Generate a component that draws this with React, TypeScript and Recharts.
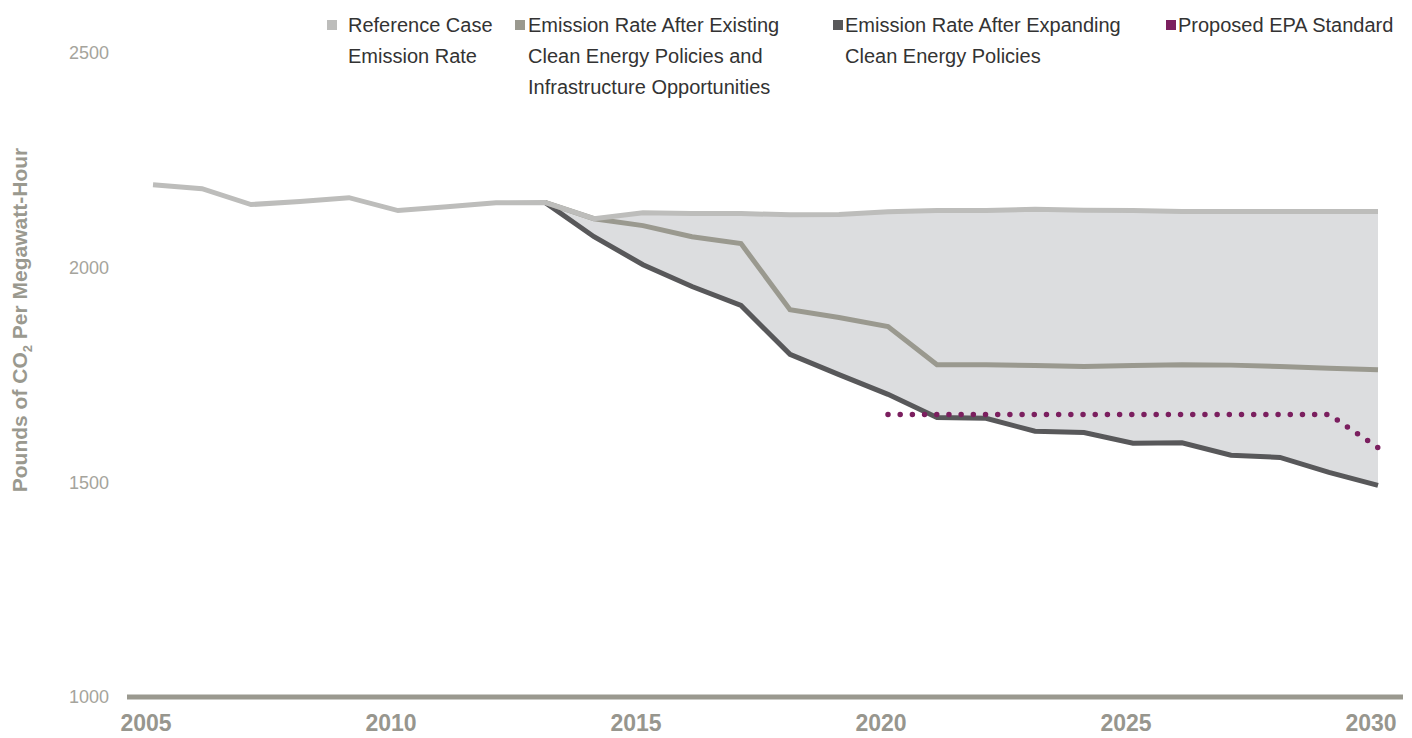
import { ComposedChart, Line, Area, XAxis, YAxis } from 'recharts';

const years = [
  2005, 2006, 2007, 2008, 2009, 2010, 2011, 2012, 2013, 2014, 2015, 2016, 2017,
  2018, 2019, 2020, 2021, 2022, 2023, 2024, 2025, 2026, 2027, 2028, 2029, 2030,
];

// pounds of CO2 per MWh
const referenceRate = [
  2193, 2184, 2147, 2154, 2163, 2133, 2142, 2151, 2152, 2114, 2128, 2126, 2126,
  2123, 2124, 2130, 2133, 2133, 2136, 2134, 2133, 2131, 2131, 2131, 2131, 2131,
];
const existingPolicies = [
  null, null, null, null, null, null, null, null, 2152, 2114, 2098, 2072, 2056,
  1902, 1884, 1863, 1774, 1774, 1772, 1770, 1772, 1774, 1773, 1770, 1766, 1762,
];
const expandingPolicies = [
  null, null, null, null, null, null, null, null, 2152, 2072, 2007, 1956, 1912,
  1798, 1751, 1705, 1651, 1649, 1619, 1616, 1591, 1592, 1563, 1558, 1523, 1493,
];
const epaStandard = [
  null, null, null, null, null, null, null, null, null, null, null, null, null,
  null, null, 1658, 1658, 1658, 1658, 1658, 1658, 1658, 1658, 1658, 1658, 1581,
];

const xTicks = [2005, 2010, 2015, 2020, 2025, 2030];
const yTicks = [1000, 1500, 2000, 2500];

const legendItems = [
  { color: '#bdbdbb', lines: ['Reference Case', 'Emission Rate'], square: 327, text: 348 },
  {
    color: '#9a998f',
    lines: ['Emission Rate After Existing', 'Clean Energy Policies and', 'Infrastructure Opportunities'],
    square: 515,
    text: 528,
  },
  { color: '#58585a', lines: ['Emission Rate After Expanding', 'Clean Energy Policies'], square: 833, text: 845 },
  { color: '#7b1f5f', lines: ['Proposed EPA Standard'], square: 1166, text: 1178 },
];

const FONT = "'Liberation Sans', Arial, sans-serif";

const data = years.map((year, i) => ({
  year,
  reference: referenceRate[i],
  existing: existingPolicies[i],
  expanding: expandingPolicies[i],
  epa: epaStandard[i],
  band: expandingPolicies[i] != null ? [expandingPolicies[i], referenceRate[i]] : null,
}));

const YTitle = () => (
  <text
    transform="translate(27,320) rotate(-90)"
    textAnchor="middle"
    fontFamily={FONT}
    fontWeight="bold"
    fontSize={21}
    fill="#9a998f"
  >
    Pounds of CO
    <tspan dy={5} fontSize={13}>2</tspan>
    <tspan dy={-5}> Per Megawatt-Hour</tspan>
  </text>
);

const App = () => {
  return (
    <div style={{ position: 'absolute', left: 0, top: 0, width: 1412, height: 738, background: '#fff' }}>
      <ComposedChart
        width={1412}
        height={738}
        data={data}
        margin={{ top: 53, right: 9, left: 0, bottom: 0 }}
      >
        <XAxis
          dataKey="year"
          type="number"
          domain={[2005, 2030]}
          ticks={xTicks}
          padding={{ left: 26, right: 25 }}
          height={41}
          axisLine={{ stroke: '#9a998f', strokeWidth: 5 }}
          tickLine={false}
          tickSize={0}
          tickMargin={18}
          tick={{ fontFamily: FONT, fontWeight: 'bold', fontSize: 23, fill: '#97968e', dx: -7 }}
        />
        <YAxis
          domain={[1000, 2500]}
          ticks={yTicks}
          width={127}
          axisLine={false}
          tickLine={false}
          tickSize={0}
          tickMargin={18}
          tick={{ fontFamily: FONT, fontSize: 18, fill: '#a5a49c' }}
          label={{ content: YTitle }}
        />
        <Area dataKey="band" fill="#dcdddf" fillOpacity={1} stroke="none" isAnimationActive={false} />
        <Line dataKey="expanding" stroke="#58585a" strokeWidth={5} dot={false} isAnimationActive={false} />
        <Line dataKey="existing" stroke="#9a998f" strokeWidth={5} dot={false} isAnimationActive={false} />
        <Line dataKey="reference" stroke="#bdbdbb" strokeWidth={5} dot={false} isAnimationActive={false} />
        <Line
          dataKey="epa"
          stroke="#7b1f5f"
          strokeWidth={5.5}
          strokeDasharray="0 12.19"
          strokeLinecap="round"
          dot={false}
          isAnimationActive={false}
        />
      </ComposedChart>
      {legendItems.map((item) => (
        <div key={item.color}>
          <span
            style={{
              position: 'absolute',
              top: 20,
              left: item.square,
              width: 10,
              height: 10,
              background: item.color,
            }}
          />
          <div
            style={{
              position: 'absolute',
              top: 10,
              left: item.text,
              fontFamily: FONT,
              fontSize: 20,
              lineHeight: '31px',
              color: '#333',
              whiteSpace: 'nowrap',
            }}
          >
            {item.lines.map((l) => (
              <div key={l}>{l}</div>
            ))}
          </div>
        </div>
      ))}
    </div>
  );
};

export default App;
